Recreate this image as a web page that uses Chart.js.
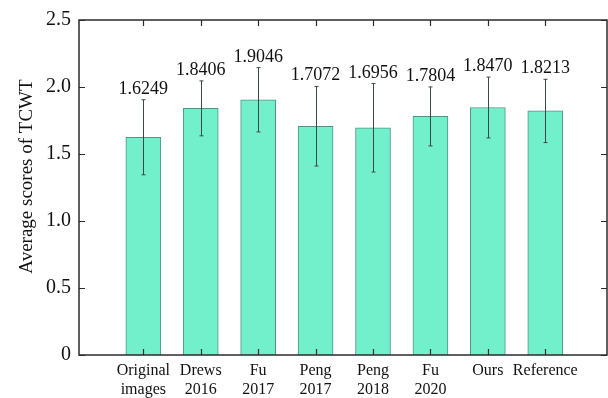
<!DOCTYPE html>
<html><head><meta charset="utf-8">
<script src="https://cdn.jsdelivr.net/npm/chart.js@4/dist/chart.umd.min.js"></script>
<style>html,body{margin:0;padding:0;background:#fff}#wrap{width:608px;height:398px}</style>
</head><body><div id="wrap"><canvas id="c" width="608" height="398"></canvas></div>
<script>
const categories = [["Original","images"],["Drews","2016"],["Fu","2017"],["Peng","2017"],["Peng","2018"],["Fu","2020"],"Ours","Reference"];
const scores = [1.6249, 1.8406, 1.9046, 1.7072, 1.6956, 1.7804, 1.8470, 1.8213];
const errors = [0.28, 0.205, 0.24, 0.297, 0.33, 0.22, 0.227, 0.236];
const yTicks = [0, 0.5, 1.0, 1.5, 2.0, 2.5];
const yTickLabels = ["0", "0.5", "1.0", "1.5", "2.0", "2.5"];
const yTitle = "Average scores of TCWT";
const positions = categories.map((_, i) => i + 1);

const SERIF = "'Liberation Serif', 'Times New Roman', serif";
const INK = '#2b2b2b';

const decor = {
  id: 'decor',
  afterDatasetsDraw(chart) {
    const ctx = chart.ctx;
    const xs = chart.scales.x, ys = chart.scales.y;
    const a = chart.chartArea;
    ctx.save();
    // error bars
    ctx.strokeStyle = '#3c4846';
    ctx.lineWidth = 1;
    scores.forEach((v, i) => {
      const x = Math.round(xs.getPixelForValue(positions[i])) + 0.5;
      const yt = ys.getPixelForValue(v + errors[i]);
      const yb = ys.getPixelForValue(v - errors[i]);
      ctx.beginPath();
      ctx.moveTo(x, yt); ctx.lineTo(x, yb);
      ctx.moveTo(x - 2, yt); ctx.lineTo(x + 2, yt);
      ctx.moveTo(x - 2, yb); ctx.lineTo(x + 2, yb);
      ctx.stroke();
    });
    // value labels
    ctx.fillStyle = '#111';
    ctx.font = '18px ' + SERIF;
    ctx.textAlign = 'center';
    ctx.textBaseline = 'alphabetic';
    scores.forEach((v, i) => {
      const x = xs.getPixelForValue(positions[i]);
      const yt = ys.getPixelForValue(v + errors[i]);
      ctx.fillText(v.toFixed(4), x, yt - 6);
    });
    // frame
    ctx.strokeStyle = INK;
    ctx.lineWidth = 1.5;
    ctx.strokeRect(a.left, a.top, a.right - a.left, a.bottom - a.top);
    // inner ticks
    ctx.lineWidth = 1.2;
    ctx.beginPath();
    positions.forEach(p => {
      const x = Math.round(xs.getPixelForValue(p)) + 0.5;
      ctx.moveTo(x, a.bottom); ctx.lineTo(x, a.bottom - 6);
      ctx.moveTo(x, a.top); ctx.lineTo(x, a.top + 6);
    });
    yTicks.forEach(t => {
      const y = Math.round(ys.getPixelForValue(t)) + 0.5;
      ctx.moveTo(a.left, y); ctx.lineTo(a.left + 6, y);
      ctx.moveTo(a.right, y); ctx.lineTo(a.right - 6, y);
    });
    ctx.stroke();
    // y title
    ctx.translate(27.5, 176.5);
    ctx.rotate(-Math.PI / 2);
    ctx.fillStyle = '#111';
    ctx.font = '19px ' + SERIF;
    ctx.textAlign = 'center';
    ctx.textBaseline = 'middle';
    ctx.fillText(yTitle, 0, 0);
    ctx.restore();
  }
};

new Chart(document.getElementById('c'), {
  type: 'bar',
  data: {
    datasets: [{
      data: scores.map((v, i) => ({ x: positions[i], y: v })),
      backgroundColor: '#72efcb',
      borderColor: '#4f9585',
      borderWidth: 1,
      borderSkipped: 'bottom',
      barThickness: 35
    }]
  },
  options: {
    responsive: false,
    devicePixelRatio: 1,
    animation: false,
    layout: { padding: { left: 12, top: 15, right: 1, bottom: 0 } },
    plugins: { legend: { display: false }, tooltip: { enabled: false } },
    scales: {
      x: {
        type: 'linear',
        offset: false,
        min: -0.12,
        max: 9.075,
        grid: { display: false, drawTicks: false, offset: false },
        border: { display: false },
        afterBuildTicks: s => { s.ticks = positions.map(v => ({ value: v })); },
        afterFit: s => { s.height = 43; },
        ticks: {
          padding: 6,
          maxRotation: 0,
          autoSkip: false,
          color: '#111',
          font: { family: SERIF, size: 16, lineHeight: 1.2 },
          callback: (v, i) => categories[i]
        }
      },
      y: {
        min: 0,
        max: 2.5,
        grid: { display: false, drawTicks: false },
        border: { display: false },
        afterBuildTicks: s => { s.ticks = yTicks.map(v => ({ value: v })); },
        afterFit: s => { s.width = 67; },
        ticks: {
          padding: 8,
          color: '#111',
          font: { family: SERIF, size: 20 },
          callback: (v, i) => yTickLabels[i]
        }
      }
    }
  },
  plugins: [decor]
});
</script></body></html>
